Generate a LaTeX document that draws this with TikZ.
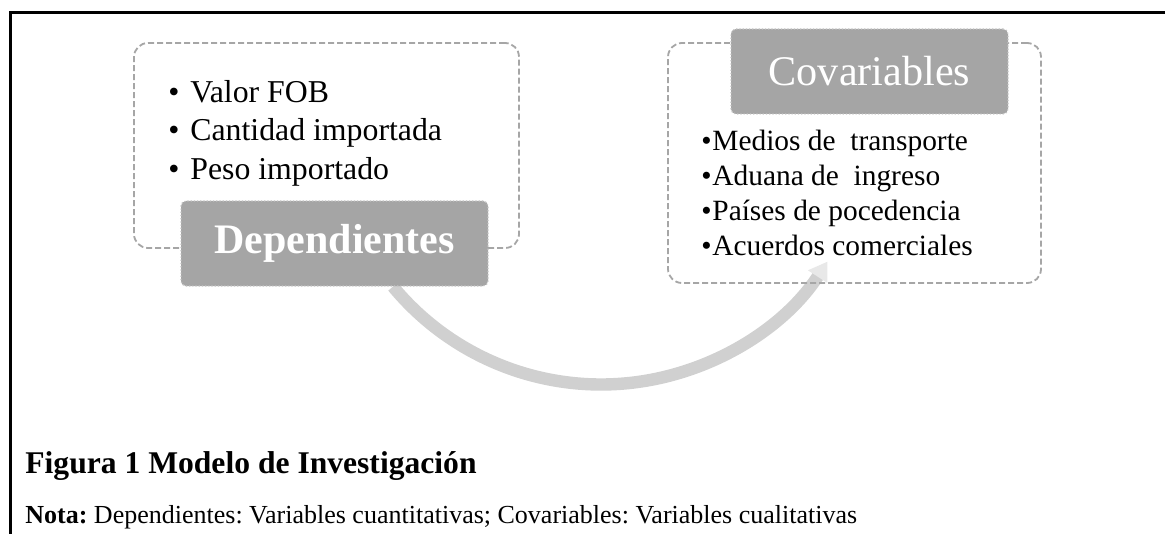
\documentclass[tikz,border=0pt]{standalone}
\usepackage{fontspec}
\setmainfont{Liberation Serif}
\usepackage{xcolor}
\usepackage{tikz}
\usetikzlibrary{
    arrows.meta,
    positioning,
    calc,
    backgrounds
}
\frenchspacing

\definecolor{boxgray}{RGB}{165,165,165}
\definecolor{dotgray}{RGB}{196,196,196}
\definecolor{panelgray}{RGB}{166,166,166}
\definecolor{arcgray}{RGB}{208,208,208}
\definecolor{tipgray}{RGB}{232,232,232}

\begin{document}
\begin{tikzpicture}[
    x=0.5pt, y=-0.5pt,
    panel/.style={
        rectangle,
        rounded corners=7pt,
        draw=panelgray,
        line width=0.9pt,
        dash pattern=on 3pt off 1.5pt,
        inner sep=0pt
    },
    tag/.style={
        rectangle,
        rounded corners=2.5pt,
        draw=dotgray,
        densely dotted,
        line width=0.6pt,
        fill=boxgray,
        text=white,
        inner sep=0pt,
        minimum height=42.5pt,
        align=center
    },
    itemlist/.style={
        inner sep=0pt,
        align=left,
        anchor=north west
    },
    flow/.style={
        draw=arcgray,
        line width=6.2pt,
        -{Triangle[width=11pt,length=9pt,fill=tipgray,color=tipgray]}
    },
    frame/.style={draw=black, line width=1.5pt}
]

\useasboundingbox (0,0) rectangle (1165,534);

% Frame
\draw[frame] (10,534) -- (10,13) -- (1165,13);

% Dependientes panel
\node[panel, minimum width=192.5pt, minimum height=102.5pt] (deppanel) at (326.5,145.5) {};
\node[itemlist, font=\fontsize{15.9}{19.25}\selectfont] (deplist) at (168,80) {
    \makebox[11pt][l]{\textbullet}Valor FOB\\
    \makebox[11pt][l]{\textbullet}Cantidad importada\\
    \makebox[11pt][l]{\textbullet}Peso importado
};
\node[tag, minimum width=153.5pt, font=\fontsize{21}{25}\selectfont\bfseries] (dep) at (334.5,243.5) {Dependientes};

% Covariables panel
\node[panel, minimum width=186.5pt, minimum height=120pt] (covpanel) at (854.5,163) {};
\node[tag, minimum width=138.5pt, font=\fontsize{21.1}{25}\selectfont] (cov) at (869.5,71.5) {Covariables};
\node[itemlist, font=\fontsize{14.7}{17.5}\selectfont] (covlist) at (701,130) {
    \makebox[5.5pt][l]{\textbullet}Medios de\ \ transporte\\
    \makebox[5.5pt][l]{\textbullet}Aduana de\ \ ingreso\\
    \makebox[5.5pt][l]{\textbullet}Países de pocedencia\\
    \makebox[5.5pt][l]{\textbullet}Acuerdos comerciales
};

% Arrow from Dependientes to Covariables
\begin{scope}[on background layer]
\draw[flow] ([xshift=29.25pt]dep.south) arc[start angle=140.4, end angle=33, radius=270];
\end{scope}

% Caption
\node[anchor=base west, inner sep=0pt, font=\fontsize{15.8}{19}\selectfont\bfseries] (caption) at (25,473) {Figura 1 Modelo de Investigación};
\node[anchor=base west, inner sep=0pt, font=\fontsize{13}{16}\selectfont] (note) at (25,523) {\textbf{Nota:} Dependientes: Variables cuantitativas; Covariables: Variables cualitativas};

\end{tikzpicture}
\end{document}
